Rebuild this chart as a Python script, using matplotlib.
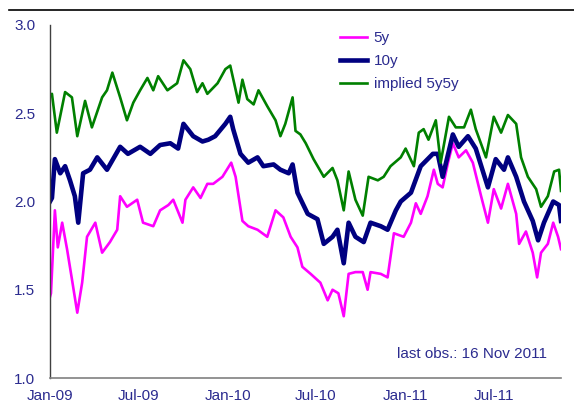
import pandas as pd
import matplotlib
matplotlib.use('Agg')
import matplotlib.pyplot as plt
import matplotlib.dates as mdates
from matplotlib.lines import Line2D

plt.rcParams['font.family'] = ['Liberation Sans Narrow', 'Liberation Sans', 'DejaVu Sans']

# 5y rate (magenta)
dates_5y = ['2009-01-01', '2009-01-03', '2009-01-11', '2009-01-17', '2009-01-26', '2009-02-05',
            '2009-02-15', '2009-02-26', '2009-03-08', '2009-03-18', '2009-04-04', '2009-04-18',
            '2009-05-04', '2009-05-19', '2009-05-25', '2009-06-08', '2009-06-29', '2009-07-11',
            '2009-08-01', '2009-08-15', '2009-09-01', '2009-09-11', '2009-09-30', '2009-10-06',
            '2009-10-22', '2009-11-06', '2009-11-20', '2009-12-02', '2009-12-21', '2010-01-08',
            '2010-01-17', '2010-01-31', '2010-02-12', '2010-03-03', '2010-03-23', '2010-04-09',
            '2010-04-25', '2010-05-10', '2010-05-24', '2010-06-03', '2010-06-20', '2010-07-10',
            '2010-07-25', '2010-08-04', '2010-08-16', '2010-08-27', '2010-09-06', '2010-09-20',
            '2010-10-05', '2010-10-15', '2010-10-21', '2010-11-11', '2010-11-25', '2010-12-08',
            '2010-12-28', '2011-01-12', '2011-01-22', '2011-02-01', '2011-02-15', '2011-02-28',
            '2011-03-08', '2011-03-18', '2011-03-29', '2011-04-08', '2011-04-20', '2011-05-05',
            '2011-05-19', '2011-06-05', '2011-06-19', '2011-07-01', '2011-07-16', '2011-07-30',
            '2011-08-16', '2011-08-22', '2011-09-05', '2011-09-19', '2011-09-28', '2011-10-06',
            '2011-10-20', '2011-10-31', '2011-11-10', '2011-11-16']
vals_5y = [1.46, 1.48, 1.95, 1.74, 1.88, 1.73,
           1.56, 1.37, 1.54, 1.80, 1.88, 1.71,
           1.77, 1.84, 2.03, 1.97, 2.01, 1.88,
           1.86, 1.95, 1.98, 2.01, 1.88, 2.01,
           2.08, 2.02, 2.10, 2.10, 2.14, 2.22,
           2.14, 1.89, 1.86, 1.84, 1.80, 1.95,
           1.91, 1.80, 1.74, 1.63, 1.59, 1.54,
           1.44, 1.50, 1.48, 1.35, 1.59, 1.60,
           1.60, 1.50, 1.60, 1.59, 1.57, 1.82,
           1.80, 1.88, 1.99, 1.93, 2.03, 2.18,
           2.10, 2.08, 2.22, 2.33, 2.25, 2.29,
           2.22, 2.03, 1.88, 2.07, 1.96, 2.10,
           1.93, 1.76, 1.83, 1.71, 1.57, 1.71,
           1.76, 1.88, 1.80, 1.73]

# 10y rate (navy)
dates_10y = ['2009-01-01', '2009-01-05', '2009-01-11', '2009-01-22', '2009-02-01', '2009-02-11',
             '2009-02-21', '2009-02-28', '2009-03-10', '2009-03-24', '2009-04-08', '2009-04-28',
             '2009-05-25', '2009-06-10', '2009-07-05', '2009-07-26', '2009-08-15', '2009-09-05',
             '2009-09-21', '2009-10-02', '2009-10-22', '2009-11-10', '2009-11-22', '2009-12-06',
             '2009-12-27', '2010-01-06', '2010-01-12', '2010-01-27', '2010-02-12', '2010-03-03',
             '2010-03-15', '2010-04-05', '2010-04-19', '2010-05-06', '2010-05-14', '2010-05-24',
             '2010-06-14', '2010-07-04', '2010-07-17', '2010-08-04', '2010-08-14', '2010-08-27',
             '2010-09-06', '2010-09-20', '2010-10-07', '2010-10-21', '2010-11-11', '2010-11-25',
             '2010-12-12', '2010-12-22', '2011-01-12', '2011-02-01', '2011-02-26', '2011-03-08',
             '2011-03-18', '2011-04-08', '2011-04-20', '2011-05-09', '2011-05-25', '2011-06-19',
             '2011-07-05', '2011-07-22', '2011-07-30', '2011-08-16', '2011-09-01', '2011-09-19',
             '2011-09-30', '2011-10-12', '2011-10-31', '2011-11-12', '2011-11-16']
vals_10y = [2.00, 2.02, 2.24, 2.16, 2.20, 2.12,
            2.03, 1.88, 2.16, 2.18, 2.25, 2.18,
            2.31, 2.27, 2.31, 2.27, 2.32, 2.33,
            2.30, 2.44, 2.37, 2.34, 2.35, 2.37,
            2.44, 2.48, 2.41, 2.27, 2.22, 2.25,
            2.20, 2.21, 2.18, 2.16, 2.21, 2.05,
            1.93, 1.90, 1.76, 1.80, 1.84, 1.65,
            1.88, 1.80, 1.77, 1.88, 1.86, 1.84,
            1.95, 2.00, 2.05, 2.20, 2.27, 2.27,
            2.14, 2.38, 2.31, 2.37, 2.30, 2.08,
            2.24, 2.18, 2.25, 2.14, 2.00, 1.89,
            1.78, 1.88, 2.00, 1.98, 1.89]

# implied 5y5y forward (green)
dates_5y5y = ['2009-01-01', '2009-01-05', '2009-01-15', '2009-02-01', '2009-02-15', '2009-02-26',
              '2009-03-14', '2009-03-28', '2009-04-18', '2009-04-28', '2009-05-09', '2009-05-25',
              '2009-06-08', '2009-06-21', '2009-07-05', '2009-07-20', '2009-08-01', '2009-08-11',
              '2009-08-30', '2009-09-19', '2009-10-02', '2009-10-16', '2009-10-30', '2009-11-10',
              '2009-11-20', '2009-12-11', '2009-12-27', '2010-01-06', '2010-01-23', '2010-01-31',
              '2010-02-10', '2010-02-23', '2010-03-05', '2010-03-23', '2010-04-09', '2010-04-19',
              '2010-04-29', '2010-05-14', '2010-05-20', '2010-05-30', '2010-06-10', '2010-06-26',
              '2010-07-17', '2010-08-04', '2010-08-14', '2010-08-27', '2010-09-06', '2010-09-20',
              '2010-10-05', '2010-10-17', '2010-11-05', '2010-11-17', '2010-12-01', '2010-12-22',
              '2011-01-01', '2011-01-18', '2011-01-28', '2011-02-07', '2011-02-17', '2011-03-04',
              '2011-03-14', '2011-03-31', '2011-04-14', '2011-05-01', '2011-05-15', '2011-05-25',
              '2011-06-15', '2011-07-01', '2011-07-16', '2011-07-30', '2011-08-16', '2011-08-26',
              '2011-09-09', '2011-09-26', '2011-10-06', '2011-10-20', '2011-11-02', '2011-11-12',
              '2011-11-16']
vals_5y5y = [2.60, 2.61, 2.39, 2.62, 2.59, 2.37,
             2.57, 2.42, 2.59, 2.63, 2.73, 2.59,
             2.46, 2.56, 2.63, 2.70, 2.63, 2.71,
             2.63, 2.67, 2.80, 2.75, 2.62, 2.67,
             2.61, 2.67, 2.75, 2.77, 2.56, 2.69,
             2.58, 2.55, 2.63, 2.54, 2.46, 2.37,
             2.44, 2.59, 2.40, 2.38, 2.33, 2.24,
             2.14, 2.19, 2.12, 1.95, 2.17, 2.01,
             1.92, 2.14, 2.12, 2.14, 2.20, 2.25,
             2.30, 2.20, 2.39, 2.41, 2.35, 2.46,
             2.22, 2.48, 2.42, 2.42, 2.52, 2.41,
             2.25, 2.48, 2.39, 2.49, 2.44, 2.25,
             2.14, 2.07, 1.97, 2.03, 2.17, 2.18,
             2.06]

series_labels = ['5y', '10y', 'implied 5y5y']
y_ticks = [1.0, 1.5, 2.0, 2.5, 3.0]
x_start, x_end = '2009-01-01', '2011-11-16'
note = 'last obs.: 16 Nov 2011'

text_col = '#2B2B8F'
fs = 11

fig = plt.figure(figsize=(5.74, 4.03), dpi=100)
ax = fig.add_axes([50 / 574, 25 / 403, 511 / 574, 353 / 403])

ax.plot(pd.to_datetime(dates_5y), vals_5y, color='#FF00FF', lw=1.9, label=series_labels[0])
ax.plot(pd.to_datetime(dates_10y), vals_10y, color='#000080', lw=3.3, label=series_labels[1])
ax.plot(pd.to_datetime(dates_5y5y), vals_5y5y, color='#008000', lw=1.9, label=series_labels[2])

ax.set_xlim(pd.Timestamp(x_start), pd.Timestamp(x_end))
ax.set_ylim(1.0, 3.0)
ax.set_yticks(y_ticks)
ax.set_yticklabels([f'{t:.1f}' for t in y_ticks])
ax.xaxis.set_major_locator(mdates.MonthLocator(bymonth=[1, 7]))
ax.xaxis.set_major_formatter(mdates.DateFormatter('%b-%y'))
ax.tick_params(axis='both', length=0, labelsize=fs, labelcolor=text_col)
ax.tick_params(axis='y', pad=10.5)
ax.tick_params(axis='x', pad=8)

for s in ['top', 'right']:
    ax.spines[s].set_visible(False)
ax.spines['left'].set_color('#404040')
ax.spines['left'].set_linewidth(1.0)
ax.spines['bottom'].set_color('#808080')
ax.spines['bottom'].set_linewidth(1.2)

leg = ax.legend(loc='upper left', bbox_to_anchor=(0.5675, 0.982), frameon=False,
                fontsize=fs, handlelength=1.75, handletextpad=0.45, labelspacing=0.58,
                borderpad=0, borderaxespad=0)
for t in leg.get_texts():
    t.set_color(text_col)

ax.text(0.9726, 0.068, note, transform=ax.transAxes, ha='right', va='center',
        fontsize=fs, color=text_col)

# rule across the top
fig.add_artist(Line2D([9 / 574, 1.0], [1 - 10 / 403, 1 - 10 / 403], color='black', lw=1.2))

fig.savefig('out.png', dpi=100)
